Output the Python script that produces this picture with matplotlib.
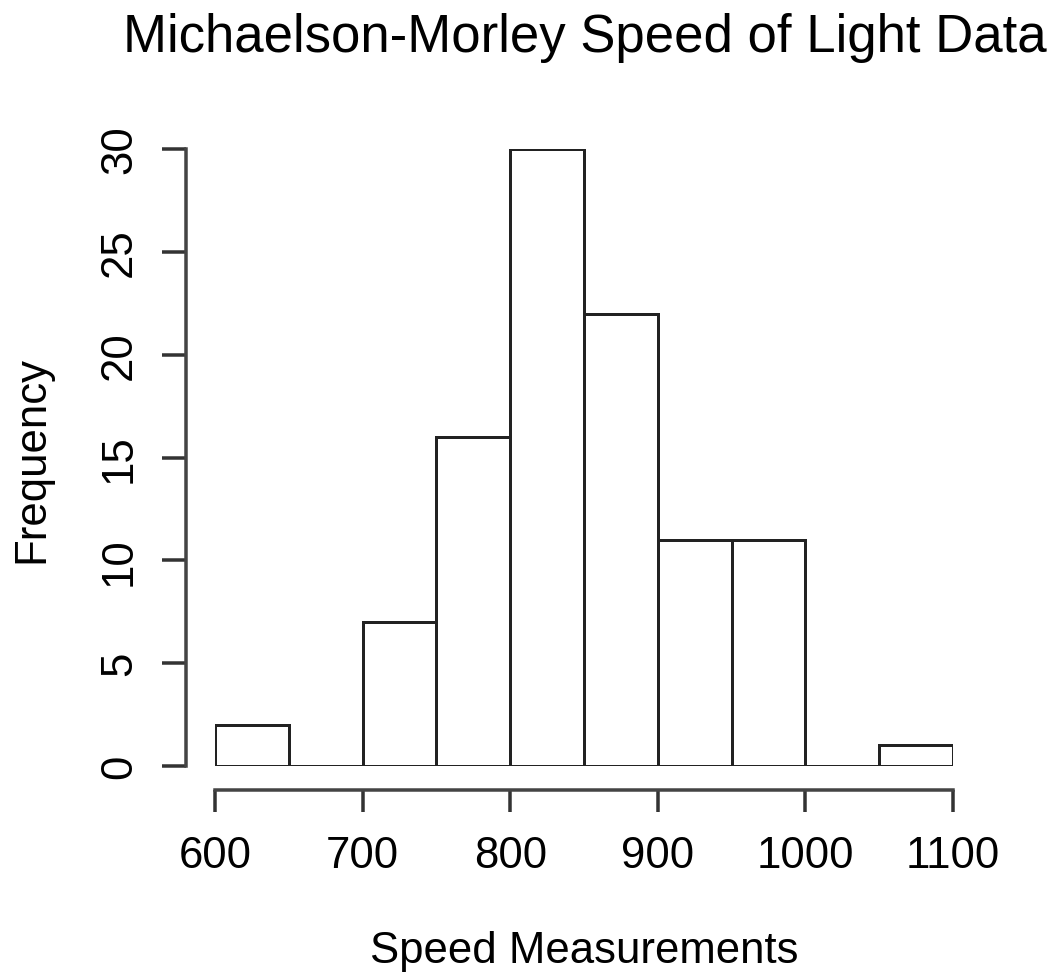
import matplotlib
matplotlib.use("Agg")
import matplotlib.pyplot as plt
import numpy as np

bin_edges = [600, 650, 700, 750, 800, 850, 900, 950, 1000, 1050, 1100]
counts = [2, 0, 7, 16, 30, 22, 11, 11, 0, 1]
x_ticks = [600, 700, 800, 900, 1000, 1100]
y_ticks = [0, 5, 10, 15, 20, 25, 30]
title = "Michaelson-Morley Speed of Light Data"
xlabel = "Speed Measurements"
ylabel = "Frequency"

plt.rcParams['font.family'] = ['Liberation Sans', 'DejaVu Sans']
W, H = 1051, 978
dpi = 100
fig = plt.figure(figsize=(W / dpi, H / dpi), dpi=dpi)
px = 72.0 / dpi

ax = fig.add_axes([215 / W, (H - 767) / H, 738 / W, 617 / H])
left = np.array(bin_edges[:-1])
widths = np.diff(bin_edges)
ax.bar(left, counts, width=widths, align='edge', facecolor='white',
       edgecolor='#222222', linewidth=3 * px)
ax.set_xlim(600, 1100)
ax.set_ylim(0, 30)

for s in ['top', 'right']:
    ax.spines[s].set_visible(False)
ax.spines['left'].set_position(('outward', 29 * px))
ax.spines['bottom'].set_position(('outward', 24 * px))
ax.spines['left'].set_bounds(0, 30)
ax.spines['bottom'].set_bounds(600, 1100)
for s in ['left', 'bottom']:
    ax.spines[s].set_linewidth(3.5 * px)
    ax.spines[s].set_color('#444444')

ax.set_xticks(x_ticks)
ax.set_yticks(y_ticks)
ax.set_xticklabels([str(v) for v in x_ticks])
ax.set_yticklabels([str(v) for v in y_ticks], rotation=90, va='center')
ax.tick_params(axis='x', length=22 * px, width=3.5 * px, color='#333333',
               pad=23 * px, labelsize=31.5)
ax.tick_params(axis='y', length=24 * px, width=3.5 * px, color='#333333',
               pad=22 * px, labelsize=31.5)

fig.text(585 / W, 1 - 38 / H, title, ha='center', va='center', fontsize=38)
fig.text(584 / W, 1 - 952 / H, xlabel, ha='center', va='center', fontsize=31.5)
fig.text(32 / W, 1 - 460 / H, ylabel, ha='center', va='center', fontsize=31.5,
         rotation=90)

fig.savefig("out.png", dpi=dpi)
